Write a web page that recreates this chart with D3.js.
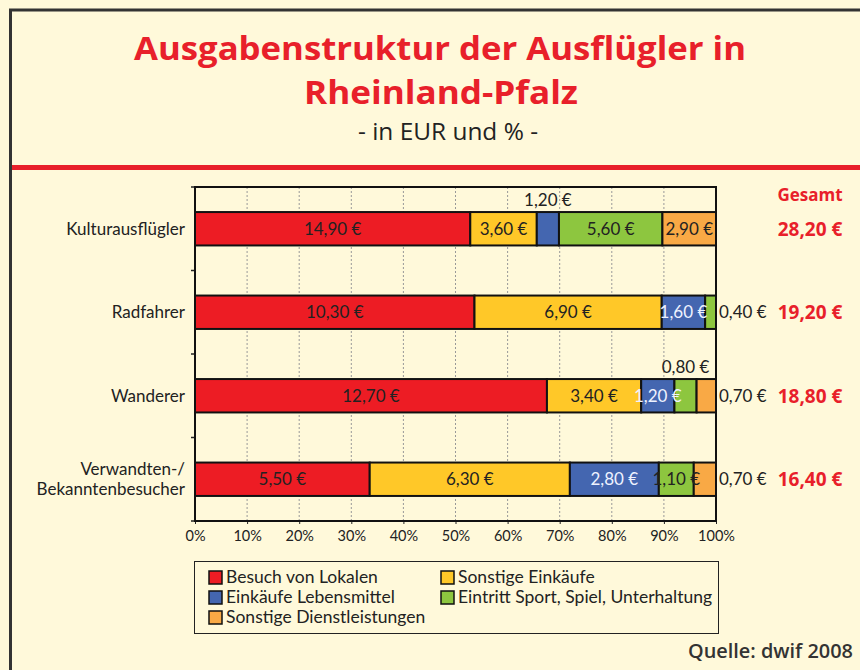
<!DOCTYPE html>
<html>
<head>
<meta charset="utf-8">
<script src="https://cdn.jsdelivr.net/npm/d3@7"></script>
<style>
  body { margin: 0; background: #fff; }
  svg { display: block; }
</style>
</head>
<body>
<div id="wrapper"></div>
<script>
// data
const categories = ["Kulturausflügler", "Radfahrer", "Wanderer", "Verwandten-/\nBekanntenbesucher"]
const seriesNames = ["Besuch von Lokalen", "Sonstige Einkäufe", "Einkäufe Lebensmittel",
    "Eintritt Sport, Spiel, Unterhaltung", "Sonstige Dienstleistungen"]
const lokale = [14.90, 10.30, 12.70, 5.50]
const sonstigeEinkaeufe = [3.60, 6.90, 3.40, 6.30]
const lebensmittel = [1.20, 1.60, 1.20, 2.80]
const eintritt = [5.60, 0.40, 0.80, 1.10]
const dienstleistungen = [2.90, 0.00, 0.70, 0.70]
const xTicks = [0, 0.1, 0.2, 0.3, 0.4, 0.5, 0.6, 0.7, 0.8, 0.9, 1]

const colors = ["#ED1C24", "#FFC828", "#4466B0", "#8DC63F", "#F9A945"]
const red = "#E8202A"

function drawChart() {
    let dimensions = {
        width: 860,
        height: 670,
        plot: { left: 195, right: 716, top: 187, bottom: 521 }
    }

    let locale = d3.formatLocale({ decimal: ",", thousands: ".", grouping: [3], currency: ["", " €"] })
    let euro = v => locale.format(".2f")(v) + " €"

    let svg = d3.select("#wrapper")
        .append("svg")
        .attr("width", dimensions.width)
        .attr("height", dimensions.height)

    // background + frame
    svg.append("rect")
        .attr("width", dimensions.width).attr("height", dimensions.height)
        .attr("fill", "#FFF9DA")
    svg.append("rect")
        .attr("x", 10.5).attr("y", 10).attr("width", 900).attr("height", 800)
        .attr("fill", "none").attr("stroke", "#333").attr("stroke-width", 3)
    svg.append("rect")
        .attr("x", 12).attr("y", 165).attr("width", 860).attr("height", 5)
        .attr("fill", red)

    // titles
    let title = svg.append("g").attr("font-family", "'Open Sans', sans-serif")
    title.append("text")
        .attr("x", 440).attr("y", 60).attr("text-anchor", "middle")
        .attr("font-size", 32).attr("font-weight", 700).attr("fill", red)
        .attr("textLength", 612).attr("lengthAdjust", "spacingAndGlyphs")
        .text("Ausgabenstruktur der Ausflügler in")
    title.append("text")
        .attr("x", 441).attr("y", 104).attr("text-anchor", "middle")
        .attr("font-size", 32).attr("font-weight", 700).attr("fill", red)
        .attr("textLength", 274).attr("lengthAdjust", "spacingAndGlyphs")
        .text("Rheinland-Pfalz")
    title.append("text")
        .attr("x", 448).attr("y", 140).attr("text-anchor", "middle")
        .attr("font-size", 23).attr("font-weight", 500).attr("fill", "#222")
        .attr("textLength", 180).attr("lengthAdjust", "spacingAndGlyphs")
        .text("- in EUR und % -")

    // stacked data
    let rows = categories.map((c, i) => ({
        cat: c,
        s0: lokale[i], s1: sonstigeEinkaeufe[i], s2: lebensmittel[i], s3: eintritt[i], s4: dienstleistungen[i]
    }))
    let keys = ["s0", "s1", "s2", "s3", "s4"]
    let stacked = d3.stack().keys(keys).offset(d3.stackOffsetExpand)(rows)

    let x = d3.scaleLinear().domain([0, 1]).range([dimensions.plot.left, dimensions.plot.right])
    let y = d3.scaleBand().domain(categories).range([dimensions.plot.top, dimensions.plot.bottom]).padding(0)
    let barH = y.bandwidth() * 0.4
    let barY = c => y(c) + (y.bandwidth() - barH) / 2

    let chart = svg.append("g").attr("font-family", "Lato, sans-serif")

    // gridlines
    chart.append("g")
        .selectAll("line")
        .data(xTicks.slice(1, -1))
        .enter().append("line")
        .attr("x1", d => x(d)).attr("x2", d => x(d))
        .attr("y1", dimensions.plot.top).attr("y2", dimensions.plot.bottom)
        .attr("stroke", "#999").attr("stroke-width", 1).attr("stroke-dasharray", "2,2")

    // x axis labels
    chart.append("g")
        .attr("transform", `translate(0,${dimensions.plot.bottom})`)
        .call(d3.axisBottom(x).tickValues(xTicks).tickFormat(d3.format(".0%")).tickSize(3).tickPadding(7))
        .call(g => g.select(".domain").remove())
        .call(g => g.selectAll("text").attr("font-size", 14.5).attr("fill", "#222").attr("font-family", "Lato, sans-serif"))
        .call(g => g.selectAll("line").attr("stroke", "#222"))

    // y axis ticks at band boundaries
    let bounds = categories.map(c => y(c)).concat([dimensions.plot.bottom])
    chart.append("g")
        .selectAll("line")
        .data(bounds)
        .enter().append("line")
        .attr("x1", dimensions.plot.left - 4).attr("x2", dimensions.plot.left)
        .attr("y1", d => d).attr("y2", d => d)
        .attr("stroke", "#222").attr("stroke-width", 1.5)

    // category labels
    let catLabels = chart.append("g")
        .selectAll("text")
        .data(categories)
        .enter().append("text")
        .attr("text-anchor", "end")
        .attr("font-size", 17).attr("fill", "#222")
    catLabels.each(function (c) {
        let lines = c.split("\n")
        let cy = y(c) + y.bandwidth() / 2
        let t = d3.select(this)
        lines.forEach((l, i) => {
            t.append("tspan")
                .attr("x", 185)
                .attr("y", cy + 6 + (i - (lines.length - 1) / 2) * 20)
                .text(l)
        })
    })

    // bars
    chart.append("g")
        .selectAll("g")
        .data(stacked)
        .enter().append("g")
        .attr("fill", (d, i) => colors[i])
        .selectAll("rect")
        .data(d => d.filter(p => p[1] - p[0] > 0))
        .enter().append("rect")
        .attr("x", d => x(d[0]))
        .attr("y", d => barY(d.data.cat))
        .attr("width", d => x(d[1]) - x(d[0]))
        .attr("height", barH)
        .attr("stroke", "#111").attr("stroke-width", 2)

    // plot border
    chart.append("rect")
        .attr("x", dimensions.plot.left).attr("y", dimensions.plot.top)
        .attr("width", dimensions.plot.right - dimensions.plot.left)
        .attr("height", dimensions.plot.bottom - dimensions.plot.top)
        .attr("fill", "none").attr("stroke", "#111").attr("stroke-width", 2)

    // segment labels
    let labels = []
    stacked.forEach((layer, si) => {
        layer.forEach((p, ci) => {
            let share = p[1] - p[0]
            let value = p.data[keys[si]]
            if (value <= 0) return
            let lastNonZero = keys.slice(si + 1).every(k => p.data[k] <= 0)
            let place = share >= 0.05 ? "in" : (lastNonZero ? "right" : "above")
            labels.push({ value, place, series: si, p, cat: p.data.cat })
        })
    })
    chart.append("g")
        .selectAll("text")
        .data(labels)
        .enter().append("text")
        .attr("font-size", 17)
        .attr("text-anchor", d => d.place == "right" ? "start" : "middle")
        .attr("x", d => d.place == "right" ? dimensions.plot.right + 3 : x((d.p[0] + d.p[1]) / 2))
        .attr("y", d => d.place == "above" ? barY(d.cat) - 6 : barY(d.cat) + barH / 2 + 6)
        .attr("fill", d => d.place == "in" && d.series == 2 ? "#EEF2FF" : "#222")
        .text(d => euro(d.value))

    // totals
    let totals = svg.append("g").attr("font-family", "'Open Sans', sans-serif")
        .attr("fill", red).attr("font-weight", 700).attr("text-anchor", "middle")
    totals.append("text")
        .attr("x", 810).attr("y", 201).attr("font-size", 17)
        .text("Gesamt")
    totals.selectAll("text.total")
        .data(rows)
        .enter().append("text")
        .attr("class", "total")
        .attr("x", 810)
        .attr("y", d => barY(d.cat) + barH / 2 + 7)
        .attr("font-size", 19)
        .text(d => euro(d3.sum(keys, k => d[k])))

    // legend
    let legend = svg.append("g").attr("font-family", "Lato, sans-serif")
    legend.append("rect")
        .attr("x", 194.5).attr("y", 561.5).attr("width", 524).attr("height", 72)
        .attr("fill", "#FFF9DA").attr("stroke", "#222").attr("stroke-width", 1)
    let item = legend.selectAll("g.item")
        .data(seriesNames)
        .enter().append("g")
        .attr("class", "item")
        .attr("transform", (d, i) => `translate(${i % 2 ? 441 : 209},${571 + Math.floor(i / 2) * 20})`)
    item.append("rect")
        .attr("width", 13).attr("height", 13)
        .attr("fill", (d, i) => colors[i]).attr("stroke", "#111").attr("stroke-width", 1.5)
    item.append("text")
        .attr("x", 17).attr("y", 12)
        .attr("font-size", 17.5).attr("fill", "#222")
        .text(d => d)

    // source
    svg.append("text")
        .attr("x", 853).attr("y", 658).attr("text-anchor", "end")
        .attr("font-family", "'Open Sans', sans-serif").attr("font-size", 20).attr("font-weight", 600)
        .attr("fill", "#333")
        .attr("textLength", 165).attr("lengthAdjust", "spacingAndGlyphs")
        .text("Quelle: dwif 2008")
}

drawChart()
</script>
</body>
</html>
